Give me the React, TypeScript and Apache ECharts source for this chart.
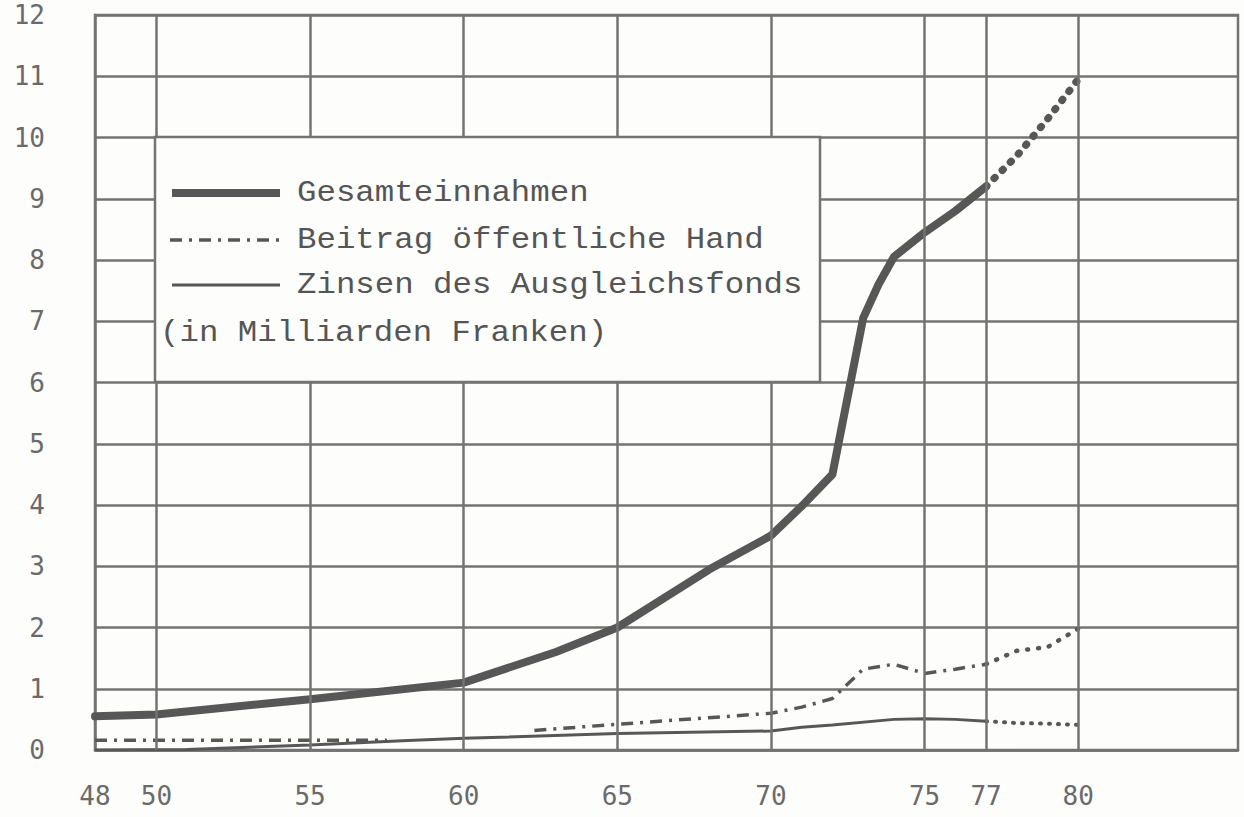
import React, { useEffect, useRef } from "react";
import * as echarts from "echarts";

// ---- data (years, values in Mrd. Fr.) ----
const xTickLabels = [48, 50, 55, 60, 65, 70, 75, 77, 80];
const verticalGridYears = [50, 55, 60, 65, 70, 75, 77, 80];

const gesamtYears = [48, 50, 55, 60, 63, 65, 68, 70, 71, 72, 73, 73.5, 74, 75, 76, 77];
const gesamtValues = [0.55, 0.58, 0.83, 1.1, 1.6, 2.0, 2.95, 3.5, 3.98, 4.5, 7.05, 7.6, 8.05, 8.45, 8.8, 9.2];
const gesamtProjYears = [77, 78, 79, 80];
const gesamtProjValues = [9.2, 9.7, 10.3, 10.95];

const beitragYears = [48, 57.5, 59, 62.3, 65, 70, 71, 72, 73, 74, 75, 76, 77];
const beitragValues: (number | null)[] = [0.16, 0.16, null, 0.32, 0.42, 0.6, 0.7, 0.84, 1.32, 1.4, 1.25, 1.32, 1.4];
const beitragProjYears = [77, 78, 79, 80];
const beitragProjValues = [1.4, 1.62, 1.68, 1.98];

const zinsenYears = [48, 51, 55, 58, 60, 65, 70, 71, 72, 74, 75, 76, 77];
const zinsenValues = [0.0, 0.01, 0.08, 0.15, 0.19, 0.27, 0.31, 0.37, 0.41, 0.5, 0.51, 0.5, 0.47];
const zinsenProjYears = [77, 78, 79, 80];
const zinsenProjValues = [0.47, 0.44, 0.43, 0.41];

const legendLabels = ["Gesamteinnahmen", "Beitrag öffentliche Hand", "Zinsen des Ausgleichsfonds"];
const unitNote = "(in Milliarden Franken)";

const pairs = (xs: number[], ys: (number | null)[]) =>
  xs.map((x, i) => [x, ys[i] === null ? "-" : ys[i]]);

const LINE = "#575757";
const GRID = "#737373";
const TEXT = "#555555";
const TICK = "#6a6a6a";
const BG = "#fdfdfc";
const LEGEND_FONT = '30px "Liberation Mono", "DejaVu Sans Mono", monospace';
const TICK_FONT = '"DejaVu Sans Mono", monospace';

export default function App() {
  const ref = useRef<HTMLDivElement>(null);

  useEffect(() => {
    if (!ref.current) return;
    const chart = echarts.init(ref.current, null, { renderer: "svg" });

    const lineSeries = (data: any[], lineStyle: any, z = 3) => ({
      type: "line",
      data,
      showSymbol: false,
      symbol: "none",
      silent: true,
      z,
      lineStyle: { color: LINE, ...lineStyle },
    });

    const option: any = {
      animation: false,
      backgroundColor: BG,
      grid: {
        left: 95,
        right: 6,
        top: 15,
        bottom: 67,
        show: true,
        borderColor: GRID,
        borderWidth: 2.5,
        backgroundColor: "transparent",
      },
      xAxis: {
        type: "value",
        min: 48,
        max: 85.2,
        splitLine: { show: false },
        axisTick: { show: false },
        axisLine: { show: true, lineStyle: { color: GRID, width: 2.5 } },
        axisLabel: {
          customValues: xTickLabels,
          margin: 33,
          fontSize: 26,
          fontFamily: TICK_FONT,
          color: TICK,
        },
      },
      yAxis: {
        type: "value",
        min: 0,
        max: 12,
        interval: 1,
        splitLine: { show: true, lineStyle: { color: GRID, width: 2.5 } },
        axisTick: { show: false },
        axisLine: { show: true, lineStyle: { color: GRID, width: 2.5 } },
        axisLabel: {
          margin: 50,
          fontSize: 26,
          fontFamily: TICK_FONT,
          color: TICK,
        },
      },
      series: [
        {
          type: "line",
          data: [],
          z: 1,
          silent: true,
          markLine: {
            silent: true,
            symbol: ["none", "none"],
            label: { show: false },
            lineStyle: { color: GRID, width: 2.5, type: "solid" },
            data: verticalGridYears.map((v) => ({ xAxis: v })),
          },
        },
        lineSeries(pairs(zinsenYears, zinsenValues), { width: 3 }),
        lineSeries(pairs(zinsenProjYears, zinsenProjValues), { width: 4, type: [1, 8], cap: "round" }),
        {
          ...lineSeries(pairs(beitragYears, beitragValues), { width: 3.5, type: [12, 7, 3, 7] }),
          connectNulls: false,
        },
        lineSeries(pairs(beitragProjYears, beitragProjValues), { width: 4.5, type: [1, 10], cap: "round" }),
        lineSeries(pairs(gesamtYears, gesamtValues), { width: 8, join: "round", cap: "round" }, 4),
        lineSeries(pairs(gesamtProjYears, gesamtProjValues), { width: 7.5, type: [1, 10.5], cap: "round" }, 4),
      ],
      graphic: [
        {
          type: "rect",
          z: 100,
          shape: { x: 155, y: 137, width: 665, height: 245 },
          style: { fill: BG, stroke: GRID, lineWidth: 2.5 },
        },
        {
          type: "line",
          z: 101,
          shape: { x1: 172, y1: 193, x2: 280, y2: 193 },
          style: { stroke: LINE, lineWidth: 8 },
        },
        {
          type: "line",
          z: 101,
          shape: { x1: 170, y1: 240, x2: 280, y2: 240 },
          style: { stroke: LINE, lineWidth: 3.5, lineDash: [12, 7, 3, 7] },
        },
        {
          type: "line",
          z: 101,
          shape: { x1: 172, y1: 285, x2: 280, y2: 285 },
          style: { stroke: LINE, lineWidth: 3 },
        },
        ...legendLabels.map((t, i) => ({
          type: "text",
          z: 101,
          x: 297,
          y: [193, 240, 285][i],
          scaleX: 1.08,
          style: { text: t, x: 0, y: 0, font: LEGEND_FONT, fill: TEXT, verticalAlign: "middle" },
        })),
        {
          type: "text",
          z: 101,
          x: 160,
          y: 333,
          scaleX: 1.08,
          style: { text: unitNote, x: 0, y: 0, font: LEGEND_FONT, fill: TEXT, verticalAlign: "middle" },
        },
      ],
    };

    chart.setOption(option);
    return () => chart.dispose();
  }, []);

  return (
    <div
      ref={ref}
      style={{ position: "fixed", left: 0, top: 0, width: 1244, height: 817, background: BG }}
    />
  );
}
